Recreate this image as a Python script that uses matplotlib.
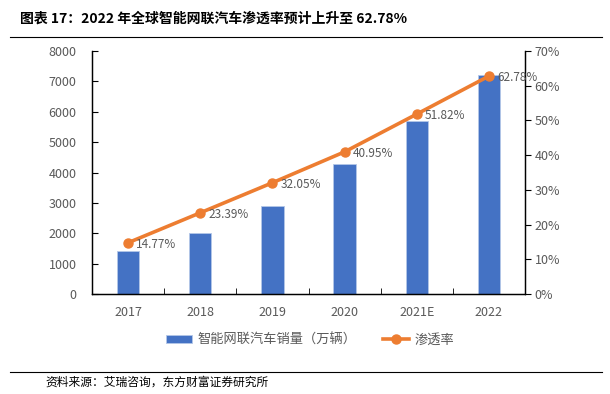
import matplotlib
matplotlib.use("Agg")
import matplotlib.pyplot as plt
import numpy as np

plt.rcParams['font.family'] = ['Noto Sans CJK SC', 'DejaVu Sans']

# Data
years = ["2017", "2018", "2019", "2020", "2021E", "2022"]
sales = [1420, 2000, 2900, 4290, 5700, 7200]          # 万辆
penetration = [14.77, 23.39, 32.05, 40.95, 51.82, 62.78]  # %

bar_color = "#4472C4"
line_color = "#ED7D31"
grey = "#595959"

fig = plt.figure(figsize=(6.10, 3.94), dpi=100)
ax = fig.add_axes([92 / 610, 1 - 294 / 394, 433 / 610, 243 / 394])
ax2 = ax.twinx()

x = np.arange(len(years))
bars = ax.bar(x, sales, width=0.31, color=bar_color, edgecolor="#B4C7E7",
              linewidth=0.6, label="智能网联汽车销量（万辆）", zorder=2)
ax.set_xlim(-0.5, len(years) - 0.5)
ax.set_ylim(0, 8000)
ax.set_yticks(np.arange(0, 8001, 1000))
ax.set_xticks(x)
ax.set_xticklabels(years)

line, = ax2.plot(x, penetration, color=line_color, lw=2.6, marker="o",
                 markersize=6.5, label="渗透率", zorder=3)
ax2.set_ylim(0, 70)
ax2.set_yticks(np.arange(0, 71, 10))
ax2.set_yticklabels([f"{v}%" for v in range(0, 71, 10)])

for xi, p in zip(x, penetration):
    ax2.annotate(f"{p:.2f}%", (xi, p), xytext=(6, -1), textcoords="offset points",
                 ha="left", va="center", fontsize=8.5, color=grey)

for a in (ax, ax2):
    a.spines["top"].set_visible(False)
    for s in ("left", "right", "bottom"):
        a.spines[s].set_color("black")
        a.spines[s].set_linewidth(0.9)

ax.tick_params(axis="y", direction="in", length=4, labelsize=9, labelcolor=grey, pad=11)
ax2.tick_params(axis="y", direction="out", length=4, labelsize=9, labelcolor=grey, pad=3)
ax.tick_params(axis="x", length=0, labelsize=9, labelcolor=grey, pad=9)
ax.set_xticks(np.arange(0.5, len(years) - 1, 1), minor=True)
ax.tick_params(axis="x", which="minor", direction="in", length=4)

# legend
fig.legend([bars, line], ["智能网联汽车销量（万辆）", "渗透率"], loc="center",
           bbox_to_anchor=(310 / 610, 1 - 340 / 394), ncol=2, frameon=False,
           fontsize=9.5, labelcolor=grey, handlelength=2.0, handleheight=0.55,
           columnspacing=2.0, handletextpad=0.4)

# title and source
fig.text(20 / 610, 1 - 19 / 394, "图表 17：2022 年全球智能网联汽车渗透率预计上升至 62.78%",
         fontsize=10, fontweight="bold", va="center", ha="left", color="black")
fig.add_artist(plt.Line2D([10 / 610, 602 / 610], [1 - 37 / 394] * 2, color="black", lw=0.8))
fig.add_artist(plt.Line2D([10 / 610, 602 / 610], [1 - 372 / 394] * 2, color="black", lw=0.8))
fig.text(45 / 610, 1 - 382 / 394, "资料来源：艾瑞咨询，东方财富证券研究所",
         fontsize=8.5, va="center", ha="left", color="black")

fig.savefig("out.png", dpi=100)
